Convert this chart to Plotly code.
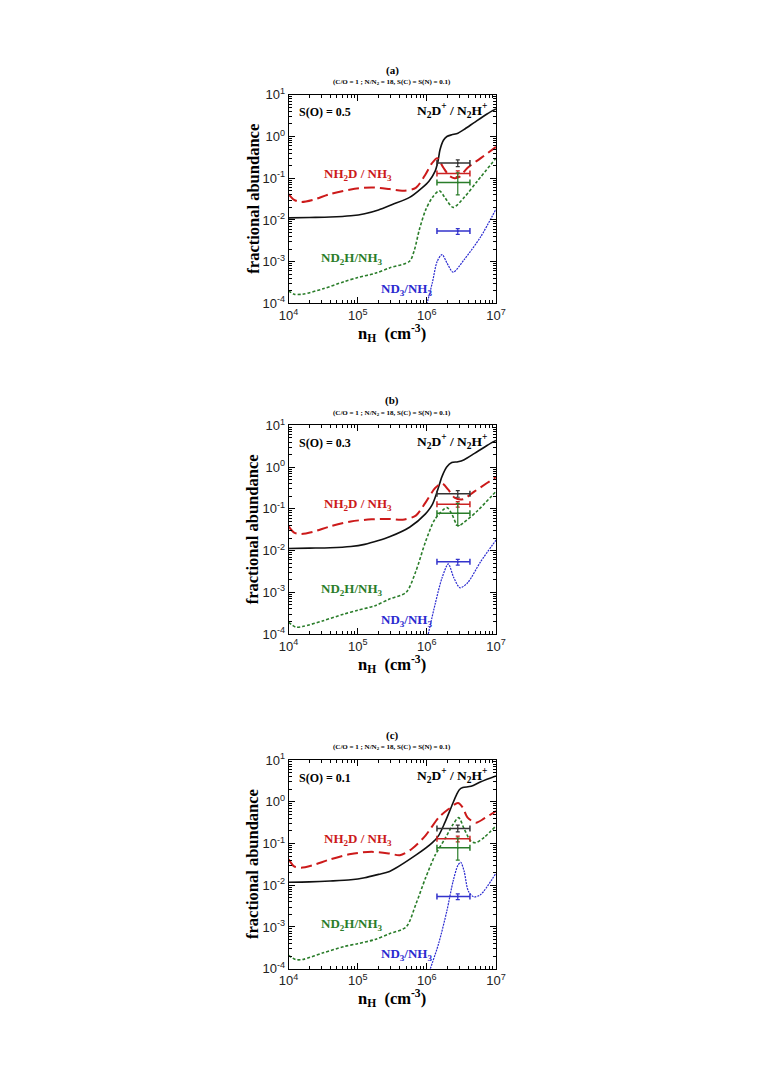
import numpy as np
import plotly.graph_objects as go
from plotly.subplots import make_subplots

# values, stored as log10(n_H) and log10(abundance ratio)
panels = ["(a)", "(b)", "(c)"]
s_oxygen = ["0.5", "0.3", "0.1"]

# N2D+ / N2H+
n2d_x_a = [4.0, 4.3, 4.6, 4.9, 5.1, 5.3, 5.5, 5.75, 5.93, 6.03, 6.12, 6.16, 6.19, 6.24, 6.29, 6.36, 6.45, 6.55, 6.69, 6.87, 7.0]
n2d_y_a = [-1.95, -1.94, -1.93, -1.90, -1.85, -1.76, -1.63, -1.46, -1.23, -1.07, -0.83, -0.6, -0.32, -0.09, 0.0, 0.04, 0.08, 0.18, 0.34, 0.54, 0.66]
n2d_x_b = [4.0, 4.3, 4.6, 4.9, 5.1, 5.3, 5.46, 5.75, 5.98, 6.08, 6.15, 6.22, 6.29, 6.36, 6.45, 6.54, 6.69, 6.87, 7.0]
n2d_y_b = [-1.95, -1.94, -1.93, -1.90, -1.85, -1.76, -1.67, -1.44, -1.12, -0.89, -0.58, -0.22, 0.01, 0.11, 0.13, 0.18, 0.33, 0.52, 0.64]
n2d_x_c = [4.0, 4.3, 4.6, 4.9, 5.1, 5.3, 5.46, 5.84, 6.08, 6.17, 6.26, 6.36, 6.43, 6.47, 6.52, 6.64, 6.78, 7.0]
n2d_y_c = [-1.93, -1.92, -1.90, -1.87, -1.82, -1.74, -1.67, -1.28, -0.98, -0.81, -0.5, -0.1, 0.17, 0.29, 0.34, 0.37, 0.48, 0.62]

# NH2D / NH3
nh2d_x_a = [4.0, 4.08, 4.18, 4.35, 4.6, 4.9, 5.2, 5.46, 5.65, 5.84, 5.98, 6.07, 6.15, 6.24, 6.33, 6.40, 6.47, 6.59, 6.78, 7.0]
nh2d_y_a = [-1.38, -1.52, -1.57, -1.52, -1.38, -1.27, -1.22, -1.26, -1.3, -1.23, -0.91, -0.65, -0.52, -0.75, -0.95, -1.0, -0.97, -0.75, -0.52, -0.25]
nh2d_x_b = [4.0, 4.08, 4.18, 4.35, 4.6, 4.9, 5.2, 5.46, 5.65, 5.84, 5.98, 6.12, 6.22, 6.31, 6.40, 6.52, 6.69, 6.87, 7.0]
nh2d_y_b = [-1.42, -1.57, -1.60, -1.55, -1.42, -1.3, -1.25, -1.24, -1.26, -1.16, -0.85, -0.5, -0.39, -0.54, -0.73, -0.77, -0.58, -0.38, -0.24]
nh2d_x_c = [4.0, 4.08, 4.18, 4.35, 4.6, 4.9, 5.2, 5.46, 5.61, 5.79, 5.98, 6.17, 6.31, 6.45, 6.52, 6.59, 6.71, 6.83, 7.0]
nh2d_y_c = [-1.38, -1.55, -1.58, -1.52, -1.38, -1.25, -1.2, -1.24, -1.28, -1.12, -0.81, -0.38, -0.18, -0.03, -0.14, -0.38, -0.5, -0.4, -0.22]

# ND2H / NH3
nd2h_x_a = [4.0, 4.08, 4.2, 4.5, 4.8, 5.0, 5.25, 5.46, 5.75, 5.82, 5.89, 5.98, 6.08, 6.18, 6.26, 6.38, 6.54, 6.73, 7.0]
nd2h_y_a = [-3.70, -3.78, -3.78, -3.65, -3.48, -3.38, -3.28, -3.15, -2.99, -2.72, -2.24, -1.77, -1.46, -1.30, -1.46, -1.70, -1.46, -1.07, -0.52]
nd2h_x_b = [4.0, 4.1, 4.2, 4.5, 4.8, 5.0, 5.25, 5.46, 5.7, 5.84, 5.98, 6.12, 6.29, 6.36, 6.45, 6.54, 6.73, 7.0]
nd2h_y_b = [-3.72, -3.83, -3.82, -3.68, -3.52, -3.43, -3.32, -3.16, -3.0, -2.5, -1.79, -1.24, -0.97, -1.12, -1.41, -1.32, -1.05, -0.58]
nd2h_x_c = [4.0, 4.1, 4.2, 4.5, 4.8, 5.0, 5.25, 5.46, 5.7, 5.84, 5.98, 6.12, 6.26, 6.38, 6.46, 6.54, 6.64, 6.71, 6.83, 7.0]
nd2h_y_c = [-3.68, -3.78, -3.78, -3.62, -3.47, -3.40, -3.30, -3.16, -3.0, -2.46, -1.83, -1.28, -0.89, -0.54, -0.38, -0.65, -0.95, -0.98, -0.85, -0.58]

# ND3 / NH3
nd3_x_a = [6.0, 6.08, 6.15, 6.22, 6.29, 6.38, 6.54, 6.78, 7.0]
nd3_y_a = [-4.02, -3.5, -2.99, -2.83, -3.03, -3.25, -2.95, -2.4, -1.74]
nd3_x_b = [6.02, 6.12, 6.22, 6.31, 6.39, 6.48, 6.59, 6.78, 7.0]
nd3_y_b = [-4.0, -3.28, -2.65, -2.32, -2.65, -2.89, -2.77, -2.26, -1.75]
nd3_x_c = [6.05, 6.17, 6.29, 6.38, 6.45, 6.49, 6.54, 6.60, 6.68, 6.78, 7.0]
nd3_y_c = [-4.0, -3.4, -2.61, -1.9, -1.52, -1.45, -1.67, -2.14, -2.28, -2.22, -1.71]

# observed ratios (same in every panel)
obs_nh = 2.8e6
obs_nh_lo = 1.4e6
obs_nh_hi = 4.2e6
obs_val = [0.23, 0.13, 0.079, 0.0054]
obs_err_hi = [0.045, 0.02, 0.056, 0.0008]
obs_err_lo = [0.04, 0.02, 0.039, 0.0009]

x_tick_exp = [4, 5, 6, 7]
y_tick_exp = [-4, -3, -2, -1, 0, 1]

curves = [
    [(n2d_x_a, n2d_y_a), (nh2d_x_a, nh2d_y_a), (nd2h_x_a, nd2h_y_a), (nd3_x_a, nd3_y_a)],
    [(n2d_x_b, n2d_y_b), (nh2d_x_b, nh2d_y_b), (nd2h_x_b, nd2h_y_b), (nd3_x_b, nd3_y_b)],
    [(n2d_x_c, n2d_y_c), (nh2d_x_c, nh2d_y_c), (nd2h_x_c, nd2h_y_c), (nd3_x_c, nd3_y_c)],
]

colors = ["#111111", "#cc1a1a", "#2a7d2a", "#2a2ad0"]
dashes = ["solid", "11px,5px", "3px,2px", "2px,1px"]
widths = [1.6, 2.0, 1.6, 1.2]
bar_colors = ["#333333", "#cc2222", "#2a7d2a", "#3333cc"]

# the page body keeps its default 8px margin, so the figure is 16px smaller
# than the 770x1090 window and every page position is shifted by 8px
PAD = 8
W, H = 770 - 2 * PAD, 1090 - 2 * PAD
left, right = 286 - PAD, 499 - PAD
tops = [87 - PAD, 423 - PAD, 763 - PAD]
ph = 212

serif = "Liberation Serif"
sans = "Liberation Sans"


def minor_vals(e0, e1):
    return [m * 10.0 ** e for e in range(e0, e1) for m in range(2, 10)]


fig = make_subplots(rows=3, cols=1)

for i in range(3):
    row = i + 1
    for k, (lx, ly) in enumerate(curves[i]):
        fig.add_trace(go.Scatter(
            x=np.power(10.0, lx), y=np.power(10.0, ly), mode="lines",
            line=dict(color=colors[k], width=widths[k], dash=dashes[k], shape="spline", smoothing=0.8),
            showlegend=False, hoverinfo="skip"), row=row, col=1)
    for k in range(4):
        fig.add_trace(go.Scatter(
            x=[obs_nh], y=[obs_val[k]], mode="markers",
            marker=dict(size=2, color=bar_colors[k]),
            error_x=dict(type="data", symmetric=False, array=[obs_nh_hi - obs_nh],
                         arrayminus=[obs_nh - obs_nh_lo], color=bar_colors[k], thickness=1.5, width=3),
            error_y=dict(type="data", symmetric=False, array=[obs_err_hi[k]],
                         arrayminus=[obs_err_lo[k]], color=bar_colors[k], thickness=1.2, width=2),
            showlegend=False, hoverinfo="skip"), row=row, col=1)

    top = tops[i]
    y0 = 1 - (top + ph) / H
    y1 = 1 - top / H
    axis_common = dict(type="log", showgrid=False, zeroline=False, showline=True, linecolor="black",
                       linewidth=1, mirror="allticks", ticks="inside", ticklen=6, tickcolor="black",
                       tickfont=dict(family=sans, size=13, color="#222222"))
    fig.update_xaxes(axis_common, range=[4, 7], domain=[left / W, right / W],
                     tickvals=[10.0 ** e for e in x_tick_exp],
                     ticktext=[f"10<sup>{e}</sup>" for e in x_tick_exp],
                     minor=dict(tickvals=minor_vals(4, 7), ticks="inside", ticklen=3, tickcolor="black"),
                     row=row, col=1)
    fig.update_yaxes(axis_common, range=[-4, 1], domain=[y0, y1],
                     tickvals=[10.0 ** e for e in y_tick_exp],
                     ticktext=[f"10<sup>{e}</sup>" for e in y_tick_exp],
                     minor=dict(tickvals=minor_vals(-4, 1), ticks="inside", ticklen=3, tickcolor="black"),
                     row=row, col=1)

    xr = "x" if i == 0 else f"x{i + 1}"
    yr = "y" if i == 0 else f"y{i + 1}"
    cx = (left + right) / 2 / W
    center = dict(xanchor="center", yanchor="middle", showarrow=False)
    # panel titles
    fig.add_annotation(text=f"<b>{panels[i]}</b>", x=cx, y=1 - (top - 25) / H, xref="paper", yref="paper",
                       font=dict(family=serif, size=11, color="black"), **center)
    fig.add_annotation(text="<b>(C/O = 1 ; N/N<sub>2</sub> = 18, S(C) = S(N) = 0.1)</b>", x=cx,
                       y=1 - (top - 13) / H, xref="paper", yref="paper",
                       font=dict(family=serif, size=7, color="black"), **center)
    # axis titles
    fig.add_annotation(text="<b>fractional abundance</b>", textangle=-90, x=(249 - PAD) / W,
                       y=1 - (top + ph / 2) / H, xref="paper", yref="paper",
                       font=dict(family=serif, size=16.5, color="black"), **center)
    fig.add_annotation(text="<b>n<sub>H</sub>  (cm<sup>-3</sup>)</b>", x=cx, y=1 - (top + ph + 30) / H,
                       xref="paper", yref="paper", font=dict(family=serif, size=16.5, color="black"), **center)
    # labels inside the plot
    fig.add_annotation(text=f"<b>S(O) = {s_oxygen[i]}</b>", x=4.52, y=0.58, xref=xr, yref=yr,
                       font=dict(family=serif, size=12, color="black"), **center)
    fig.add_annotation(text="<b>N<sub>2</sub>D<sup>+</sup> / N<sub>2</sub>H<sup>+</sup></b>", x=6.37, y=0.62,
                       xref=xr, yref=yr, font=dict(family=serif, size=13.5, color="black"), **center)
    fig.add_annotation(text="<b>NH<sub>2</sub>D / NH<sub>3</sub></b>", x=5.0, y=-0.9, xref=xr, yref=yr,
                       font=dict(family=serif, size=13, color=colors[1]), **center)
    fig.add_annotation(text="<b>ND<sub>2</sub>H/NH<sub>3</sub></b>", x=4.92, y=-2.93, xref=xr, yref=yr,
                       font=dict(family=serif, size=13, color=colors[2]), **center)
    fig.add_annotation(text="<b>ND<sub>3</sub>/NH<sub>3</sub></b>", x=5.71, y=-3.67, xref=xr, yref=yr,
                       font=dict(family=serif, size=13, color=colors[3]), **center)

fig.update_layout(width=W, height=H, margin=dict(l=0, r=0, t=0, b=0),
                  paper_bgcolor="white", plot_bgcolor="white", showlegend=False)

fig.write_html("out.html", config={"displayModeBar": False})
